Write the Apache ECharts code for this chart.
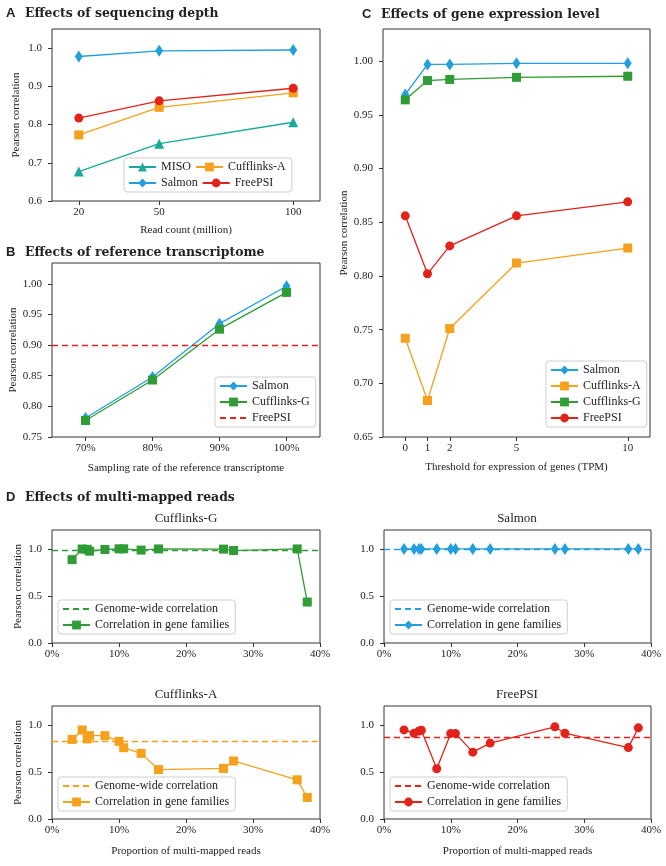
<!DOCTYPE html>
<html>
<head>
<meta charset="utf-8">
<script src="https://cdn.jsdelivr.net/npm/echarts@6/dist/echarts.min.js"></script>
<style>
  html, body { margin: 0; padding: 0; background: #fff; }
  #container { width: 666px; height: 866px; }
</style>
</head>
<body>
<div id="container"></div>
<script>
// ---- A: sequencing depth ----
var depthReads = [20, 50, 100];
var depthMiso = [0.677, 0.750, 0.806];
var depthSalmon = [0.978, 0.993, 0.995];
var depthCuffA = [0.773, 0.845, 0.883];
var depthFreePSI = [0.817, 0.862, 0.895];

// ---- B: reference transcriptome ----
var refRates = ['70%', '80%', '90%', '100%'];
var refSalmon = [0.781, 0.848, 0.935, 0.996];
var refCuffG = [0.777, 0.843, 0.926, 0.986];
var refFreePSI = 0.895;

// ---- C: gene expression level ----
var tpmThresholds = [0, 1, 2, 5, 10];
var exprSalmon = [0.969, 0.997, 0.997, 0.998, 0.998];
var exprCuffA = [0.742, 0.684, 0.751, 0.812, 0.826];
var exprCuffG = [0.964, 0.982, 0.983, 0.985, 0.986];
var exprFreePSI = [0.856, 0.802, 0.828, 0.856, 0.869];

// ---- D: multi-mapped reads (x in %) ----
var famMulti = [3.0, 4.5, 5.25, 5.6, 7.9, 10.0, 10.7, 13.3, 15.9, 25.6, 27.1, 36.6, 38.1];
var famCuffG = [0.885, 0.998, 0.995, 0.975, 0.993, 1.0, 1.0, 0.987, 0.999, 0.997, 0.982, 0.999, 0.435];
var famSalmon = [0.999, 0.999, 0.998, 0.999, 0.999, 0.999, 0.999, 0.999, 0.999, 0.999, 0.999, 0.999, 0.999];
var famCuffA = [0.845, 0.945, 0.850, 0.885, 0.885, 0.825, 0.757, 0.697, 0.525, 0.537, 0.616, 0.416, 0.228];
var famFreePSI = [0.946, 0.911, 0.935, 0.943, 0.534, 0.909, 0.909, 0.710, 0.806, 0.979, 0.911, 0.758, 0.968];
var genomeWide = { cuffG: 0.989, salmon: 1.0, cuffA: 0.826, freePSI: 0.868 };

var C_MISO = '#1aa99b';
var C_SALMON = '#239fdd';
var C_CUFFA = '#f5a11c';
var C_CUFFG = '#2f9c35';
var C_FREE = '#e2231a';

var SERIF = '"Liberation Serif", "Times New Roman", serif';
var TITLE_FONT = 'bold 12.4px "DejaVu Serif"';
var INK = '#222';

function pairs(xs, ys) {
    return xs.map(function (x, i) { return [x, ys[i]]; });
}

function yAxis(grid, min, max, ticks, digits, name, gap) {
    return {
        type: 'value', gridIndex: grid, min: min, max: max,
        name: name || '', nameLocation: 'middle', nameGap: gap || 30,
        nameTextStyle: { fontFamily: SERIF, fontSize: 11, color: INK },
        axisLine: { show: false, onZero: false },
        splitLine: { show: false },
        axisTick: { show: true, length: 4, customValues: ticks, lineStyle: { color: '#333', width: 1 } },
        axisLabel: {
            fontFamily: SERIF, fontSize: 11, color: INK, margin: 10,
            customValues: ticks,
            formatter: function (v) { return v.toFixed(digits); }
        }
    };
}

function xAxisVal(grid, min, max, ticks, fmt, name, gap) {
    return {
        type: 'value', gridIndex: grid, min: min, max: max,
        name: name || '', nameLocation: 'middle', nameGap: gap || 22,
        nameTextStyle: { fontFamily: SERIF, fontSize: 11, color: INK },
        axisLine: { show: false, onZero: false },
        splitLine: { show: false },
        axisTick: { show: true, length: 4, customValues: ticks, lineStyle: { color: '#333', width: 1 } },
        axisLabel: {
            fontFamily: SERIF, fontSize: 11, color: INK, margin: 6,
            customValues: ticks, formatter: fmt
        }
    };
}

function lineSeries(name, grid, data, color, symbol, size) {
    return {
        name: name, type: 'line', xAxisIndex: grid, yAxisIndex: grid,
        data: data, color: color, symbol: symbol, symbolSize: size,
        showSymbol: true, animation: false,
        lineStyle: { width: 1.3, color: color },
        itemStyle: { color: color }
    };
}

// horizontal reference line across the whole plot, no marker in legend
function dashSeries(name, grid, value, color) {
    return {
        name: name, type: 'line', xAxisIndex: grid, yAxisIndex: grid,
        data: [], color: color, symbol: 'none', animation: false,
        lineStyle: { width: 1.3, type: [6, 4], color: color },
        itemStyle: { color: color, opacity: 0 },
        markLine: {
            silent: true, symbol: 'none', label: { show: false },
            lineStyle: { width: 1.3, type: [6, 4], color: color, opacity: 1 },
            data: [{ yAxis: value }]
        }
    };
}

function legendBox(left, top, names, opts) {
    var l = {
        left: left, top: top, orient: 'vertical', data: names,
        itemWidth: 27, itemHeight: 11, itemGap: 4,
        padding: [3, 6, 3, 4],
        borderColor: '#cfcfcf', borderWidth: 1, borderRadius: 3,
        backgroundColor: 'rgba(255,255,255,0.85)',
        selectedMode: false,
        textStyle: { fontFamily: SERIF, fontSize: 12, color: INK },
        formatter: function (n) { return n.split(':')[1]; }
    };
    for (var k in opts || {}) { l[k] = opts[k]; }
    return l;
}

function fam(grid, key, color, symbol, size, xs, ys) {
    return [
        dashSeries(key + ':Genome-wide correlation', grid, genomeWide[key], color),
        lineSeries(key + ':Correlation in gene families', grid, pairs(xs, ys), color, symbol, size)
    ];
}

function pct(v) { return v + '%'; }
var famTicksX = [0, 10, 20, 30, 40];
var famTicksY = [0, 0.5, 1.0];

var option = {
    backgroundColor: '#fff',
    animation: false,
    grid: [
        { left: 52, top: 29, width: 268, height: 172 },
        { left: 52, top: 263, width: 268, height: 174 },
        { left: 383, top: 29, width: 267, height: 408 },
        { left: 52, top: 530, width: 268, height: 113 },
        { left: 384, top: 530, width: 267, height: 113 },
        { left: 52, top: 706, width: 268, height: 113 },
        { left: 384, top: 706, width: 267, height: 113 }
    ].map(function (g) {
        g.show = true; g.borderColor = '#333'; g.borderWidth = 1;
        g.backgroundColor = 'transparent';
        return g;
    }),
    xAxis: [
        xAxisVal(0, 10, 110, depthReads, null, 'Read count (million)', 24),
        {
            type: 'category', gridIndex: 1, data: refRates, boundaryGap: true,
            name: 'Sampling rate of the reference transcriptome', nameLocation: 'middle', nameGap: 26,
            nameTextStyle: { fontFamily: SERIF, fontSize: 11, color: INK },
            axisLine: { show: false, onZero: false },
            axisTick: { show: true, length: 4, alignWithLabel: true, lineStyle: { color: '#333', width: 1 } },
            axisLabel: { fontFamily: SERIF, fontSize: 11, color: INK, margin: 6 }
        },
        xAxisVal(2, -1, 11, tpmThresholds, null, 'Threshold for expression of genes (TPM)', 25),
        xAxisVal(3, 0, 40, famTicksX, pct),
        xAxisVal(4, 0, 40, famTicksX, pct),
        xAxisVal(5, 0, 40, famTicksX, pct, 'Proportion of multi-mapped reads', 27),
        xAxisVal(6, 0, 40, famTicksX, pct, 'Proportion of multi-mapped reads', 27)
    ],
    yAxis: [
        yAxis(0, 0.6, 1.05, [0.6, 0.7, 0.8, 0.9, 1.0], 1, 'Pearson correlation', 30),
        yAxis(1, 0.75, 1.034, [0.75, 0.8, 0.85, 0.9, 0.95, 1.0], 2, 'Pearson correlation', 33),
        yAxis(2, 0.65, 1.03, [0.65, 0.7, 0.75, 0.8, 0.85, 0.9, 0.95, 1.0], 2, 'Pearson correlation', 33),
        yAxis(3, 0, 1.2, famTicksY, 1, 'Pearson correlation', 28),
        yAxis(4, 0, 1.2, famTicksY, 1),
        yAxis(5, 0, 1.2, famTicksY, 1, 'Pearson correlation', 28),
        yAxis(6, 0, 1.2, famTicksY, 1)
    ],
    legend: [
        legendBox(124, 158, ['a:MISO', 'a:Cufflinks-A', 'a:Salmon', 'a:FreePSI'], {
            orient: 'horizontal', width: 184,
            textStyle: {
                fontFamily: SERIF, fontSize: 12, color: INK,
                rich: { w: { width: 56, fontFamily: SERIF, fontSize: 12, color: INK } }
            },
            formatter: function (n) { return '{w|' + n.split(':')[1] + '}'; }
        }),
        legendBox(215, 377, ['b:Salmon', 'b:Cufflinks-G', 'b:FreePSI']),
        legendBox(546, 361, ['c:Salmon', 'c:Cufflinks-A', 'c:Cufflinks-G', 'c:FreePSI']),
        legendBox(58, 600, ['cuffG:Genome-wide correlation', 'cuffG:Correlation in gene families']),
        legendBox(390, 600, ['salmon:Genome-wide correlation', 'salmon:Correlation in gene families']),
        legendBox(58, 777, ['cuffA:Genome-wide correlation', 'cuffA:Correlation in gene families']),
        legendBox(390, 777, ['freePSI:Genome-wide correlation', 'freePSI:Correlation in gene families'])
    ],
    series: [
        lineSeries('a:MISO', 0, pairs(depthReads, depthMiso), C_MISO, 'triangle', 10),
        lineSeries('a:Salmon', 0, pairs(depthReads, depthSalmon), C_SALMON, 'diamond', [8, 12]),
        lineSeries('a:Cufflinks-A', 0, pairs(depthReads, depthCuffA), C_CUFFA, 'rect', 9),
        lineSeries('a:FreePSI', 0, pairs(depthReads, depthFreePSI), C_FREE, 'circle', 9),

        dashSeries('b:FreePSI', 1, refFreePSI, C_FREE),
        lineSeries('b:Salmon', 1, refSalmon, C_SALMON, 'diamond', [8, 12]),
        lineSeries('b:Cufflinks-G', 1, refCuffG, C_CUFFG, 'rect', 9),

        lineSeries('c:Salmon', 2, pairs(tpmThresholds, exprSalmon), C_SALMON, 'diamond', [8, 12]),
        lineSeries('c:Cufflinks-A', 2, pairs(tpmThresholds, exprCuffA), C_CUFFA, 'rect', 9),
        lineSeries('c:Cufflinks-G', 2, pairs(tpmThresholds, exprCuffG), C_CUFFG, 'rect', 9),
        lineSeries('c:FreePSI', 2, pairs(tpmThresholds, exprFreePSI), C_FREE, 'circle', 9)
    ]
        .concat(fam(3, 'cuffG', C_CUFFG, 'rect', 9, famMulti, famCuffG))
        .concat(fam(4, 'salmon', C_SALMON, 'diamond', [8, 12], famMulti, famSalmon))
        .concat(fam(5, 'cuffA', C_CUFFA, 'rect', 9, famMulti, famCuffA))
        .concat(fam(6, 'freePSI', C_FREE, 'circle', 9, famMulti, famFreePSI)),
    graphic: [
        { type: 'text', x: 6, y: 7, style: { text: 'A', font: 'bold 13px "Liberation Sans"', fill: INK } },
        { type: 'text', x: 25, y: 8, style: { text: 'Effects of sequencing depth', font: TITLE_FONT, fill: INK } },
        { type: 'text', x: 6, y: 246, style: { text: 'B', font: 'bold 13px "Liberation Sans"', fill: INK } },
        { type: 'text', x: 25, y: 247, style: { text: 'Effects of reference transcriptome', font: TITLE_FONT, fill: INK } },
        { type: 'text', x: 362, y: 8, style: { text: 'C', font: 'bold 13px "Liberation Sans"', fill: INK } },
        { type: 'text', x: 381, y: 9, style: { text: 'Effects of gene expression level', font: TITLE_FONT, fill: INK } },
        { type: 'text', x: 6, y: 491, style: { text: 'D', font: 'bold 13px "Liberation Sans"', fill: INK } },
        { type: 'text', x: 25, y: 492, style: { text: 'Effects of multi-mapped reads', font: TITLE_FONT, fill: INK } },
        { type: 'text', x: 186, y: 512, style: { text: 'Cufflinks-G', font: '13px "Liberation Serif"', fill: INK, align: 'center' } },
        { type: 'text', x: 517, y: 512, style: { text: 'Salmon', font: '13px "Liberation Serif"', fill: INK, align: 'center' } },
        { type: 'text', x: 186, y: 688, style: { text: 'Cufflinks-A', font: '13px "Liberation Serif"', fill: INK, align: 'center' } },
        { type: 'text', x: 517, y: 688, style: { text: 'FreePSI', font: '13px "Liberation Serif"', fill: INK, align: 'center' } }
    ]
};

var myChart = echarts.init(document.getElementById('container'), null, { renderer: 'canvas' });
myChart.setOption(option);
</script>
</body>
</html>
